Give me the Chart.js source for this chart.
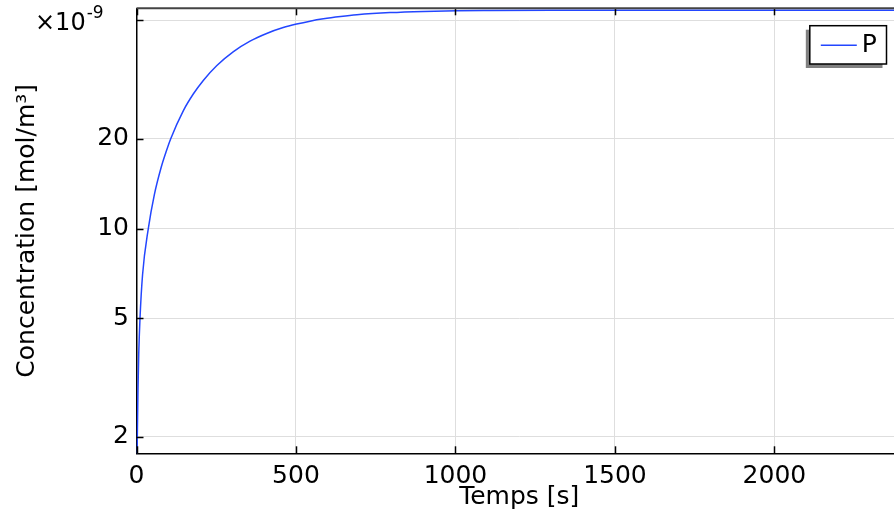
<!DOCTYPE html>
<html><head><meta charset="utf-8">
<script src="https://cdn.jsdelivr.net/npm/chart.js@4.4.0/dist/chart.umd.min.js"></script>
<style>
html,body{margin:0;padding:0;overflow:hidden;background:#fff;width:894px;height:519px}
#wrap{width:902px;height:519px;position:relative}
canvas{display:block}
</style>
</head><body><div id="wrap"><canvas id="c" width="902" height="519" style="width:902px;height:519px"></canvas></div>
<script>
// ---- data ----
const times = [0.5, 2.5, 4.7, 7, 11, 19, 37, 56, 77, 92, 107, 147, 178, 210, 252, 304, 356, 408, 460, 502, 544, 586, 640, 691, 795, 900, 1004, 1109, 1300, 1600, 1900, 2200, 2400];
const concP = [1.3, 2.0, 2.9, 3.8, 5.0, 7.0, 10.0, 13.0, 16.0, 18.0, 20.0, 24.9, 28.3, 31.5, 35.3, 39.3, 42.6, 45.2, 47.3, 48.6, 49.7, 50.6, 51.5, 52.2, 53.1, 53.6, 53.85, 53.95, 54.05, 54.1, 54.1, 54.1, 54.1];
const xTickValues = [0, 500, 1000, 1500, 2000];
const yTickValues = [2, 5, 10, 20, 50];
const yTickLabels = ['2', '5', '10', '20', ''];
const seriesLabel = 'P';
const xTitle = 'Temps [s]';
const yTitle = 'Concentration [mol/m\u00B3]';
const xRange = [0, 2400];
const yRange = [1.76, 54.9];
const scaleFactorText = ['\u00D710', '-9'];

const FONT = 'DejaVu Sans';
const BLUE = 'rgb(35,70,255)';

function line(ctx, x1, y1, x2, y2) { ctx.beginPath(); ctx.moveTo(x1, y1); ctx.lineTo(x2, y2); ctx.stroke(); }

const framePlugin = {
  id: 'frame',
  afterDraw(chart) {
    const { ctx, chartArea: a, scales: { x, y } } = chart;
    ctx.save();
    ctx.strokeStyle = '#000'; ctx.lineWidth = 1.5;
    x.ticks.forEach(t => { const px = Math.round(x.getPixelForValue(t.value)) + 0.5; line(ctx, px, a.bottom, px, a.bottom - 7); line(ctx, px, a.top, px, a.top + 7); });
    y.ticks.forEach(t => { const py = Math.round(y.getPixelForValue(t.value)) + 0.5; line(ctx, a.left, py, a.left + 7, py); line(ctx, a.right, py, a.right - 7, py); });
    ctx.strokeStyle = '#444'; ctx.lineWidth = 2;
    line(ctx, a.left, a.top, a.right, a.top);
    line(ctx, a.right, a.top, a.right, a.bottom);
    // scale factor
    ctx.fillStyle = '#000'; ctx.textBaseline = 'alphabetic'; ctx.textAlign = 'left';
    ctx.font = '24px "' + FONT + '"';
    ctx.fillText(scaleFactorText[0], 35, 30);
    const w = ctx.measureText(scaleFactorText[0]).width;
    ctx.font = '17px "' + FONT + '"';
    ctx.fillText(scaleFactorText[1], 35 + w + 1, 18);
    // legend
    const ds = chart.data.datasets[0];
    const bx = a.right - 92.2, by = 25.7, bw = 76.7, bh = 38.3;
    ctx.fillStyle = '#808080'; ctx.fillRect(bx - 4, by + 4, bw, bh);
    ctx.fillStyle = '#fff'; ctx.fillRect(bx, by, bw, bh);
    ctx.strokeStyle = '#000'; ctx.lineWidth = 1.5; ctx.strokeRect(bx, by, bw, bh);
    ctx.strokeStyle = ds.borderColor; ctx.lineWidth = 1.5;
    line(ctx, bx + 11, by + 19.5, bx + 47, by + 19.5);
    ctx.fillStyle = '#000'; ctx.font = '25px "' + FONT + '"'; ctx.textBaseline = 'middle';
    ctx.fillText(ds.label, bx + 52, by + 20);
    ctx.restore();
  }
};

new Chart(document.getElementById('c'), {
  type: 'line',
  data: { datasets: [{ label: seriesLabel, data: times.map((t, i) => ({ x: t, y: concP[i] })), borderColor: BLUE, borderWidth: 1.5, pointRadius: 0, fill: false, cubicInterpolationMode: 'monotone' }] },
  options: {
    responsive: false, animation: false, devicePixelRatio: 1,
    layout: { padding: { top: 8.3, right: 0, left: 0, bottom: 0 } },
    plugins: { legend: { display: false }, tooltip: { enabled: false } },
    scales: {
      x: {
        type: 'linear', min: xRange[0], max: xRange[1],
        afterBuildTicks: s => { s.ticks = xTickValues.map(v => ({ value: v })); },
        afterFit: s => { s.height = 65.7; s.paddingLeft = 0; s.paddingRight = 0; },
        grid: { color: '#dedede', lineWidth: 1, drawTicks: false },
        border: { display: true, color: '#000', width: 1.5 },
        ticks: { color: '#000', font: { family: FONT, size: 25 }, padding: 8.5, maxRotation: 0, autoSkip: false, callback: v => String(v) },
        title: { display: true, text: xTitle, color: '#000', font: { family: FONT, size: 25 }, padding: { top: 0, bottom: 7 } }
      },
      y: {
        type: 'logarithmic', min: yRange[0], max: yRange[1],
        afterBuildTicks: s => { s.ticks = yTickValues.map(v => ({ value: v })); },
        afterFit: s => { s.width = 136.5; s.paddingTop = 0; s.paddingBottom = 0; },
        grid: { color: '#dedede', lineWidth: 1, drawTicks: false },
        border: { display: true, color: '#000', width: 1.5 },
        ticks: { color: '#000', font: { family: FONT, size: 25 }, padding: 7.5, autoSkip: false, callback: (v) => { const i = yTickValues.indexOf(v); return i >= 0 ? yTickLabels[i] : ''; } },
        title: { display: true, text: yTitle, color: '#000', font: { family: FONT, size: 25 }, padding: { top: 12, bottom: 0 } }
      }
    }
  },
  plugins: [framePlugin]
});
</script>
</body></html>
